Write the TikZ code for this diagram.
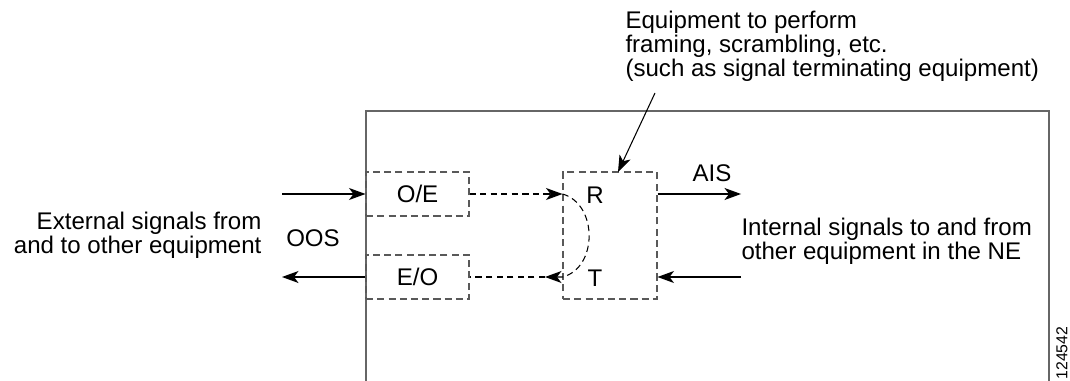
\documentclass[tikz,border=0pt]{standalone}
\usepackage{fontspec}
\setmainfont{Liberation Sans}
\usetikzlibrary{arrows.meta}

\begin{document}
\begin{tikzpicture}[x=0.02cm,y=-0.02cm,line width=0.6pt]
        % Define the styles
        \tikzset{
          every node/.style={font=\fontsize{13.7}{13.6}\selectfont},
          lbl/.style={inner sep=0pt},
          dbox/.style={draw=black!65, dashed, dash pattern=on 4pt off 2.4pt,
                       minimum width=2.06cm, minimum height=0.88cm, inner sep=0pt},
          dline/.style={dash pattern=on 3.6pt off 2.4pt},
          sig/.style={-{Stealth[length=3.3mm,width=2.4mm,inset=0.9mm]}},
          frame/.style={draw=black!60}
        }
        \useasboundingbox (0,0) rectangle (1070,381);

        % Frame of the NE
        \draw[frame] (366,381) |- (1049,111) -- (1049,381);

        % Nodes
        \node[dbox] (OE) at (417.5,194) {O/E};
        \node[dbox] (EO) at (417.5,277) {E/O};
        \node[dbox, minimum width=1.88cm, minimum height=2.54cm] (RT) at (610,235.5) {};
        \node (R) at (595,195) {R};
        \node (T) at (595,278) {T};

        \node[lbl, anchor=east, align=right] (ext) at (262,235) {External signals from\\and to other equipment};
        \node (oos) at (313,238) {OOS};
        \node (ais) at (712,173) {AIS};
        \node[lbl, anchor=west, align=left] (int) at (741,241) {Internal signals to and from\\other equipment in the NE};
        \node[lbl, anchor=west, align=left] (equip) at (625,46) {Equipment to perform\\framing, scrambling, etc.\\(such as signal terminating equipment)};
        \node[rotate=90, font=\fontsize{9}{10}\selectfont] (fig) at (1062,353) {124542};

        % Coordinates
        \coordinate (extin) at (282,194);
        \coordinate (extout) at (282,277);
        \coordinate (intout) at (741,194);
        \coordinate (intin) at (741,277);
        \coordinate (ptr) at (655,93);
        \coordinate (ptrtip) at (618,172);
        \coordinate (loopR) at (RT.west |- OE.east);
        \coordinate (loopT) at (RT.west |- EO.east);
        \coordinate (looptip) at (545,277);

        % Edges
        \draw[sig] (extin) -- (OE.west);
        \draw[sig] (EO.west) -- (extout);
        \draw[dline, sig] (OE.east) -- (loopR);
        \draw[dline, sig] (loopR) .. controls (598,204) and (598,268) .. (loopT) -- (looptip);
        \draw[dline] (looptip) -- (EO.east);
        \draw[sig] (RT.east |- OE.east) -- (intout);
        \draw[sig] (intin) -- (RT.east |- EO.east);
        \draw[sig] (ptr) -- (ptrtip);
    \end{tikzpicture}
\end{document}
